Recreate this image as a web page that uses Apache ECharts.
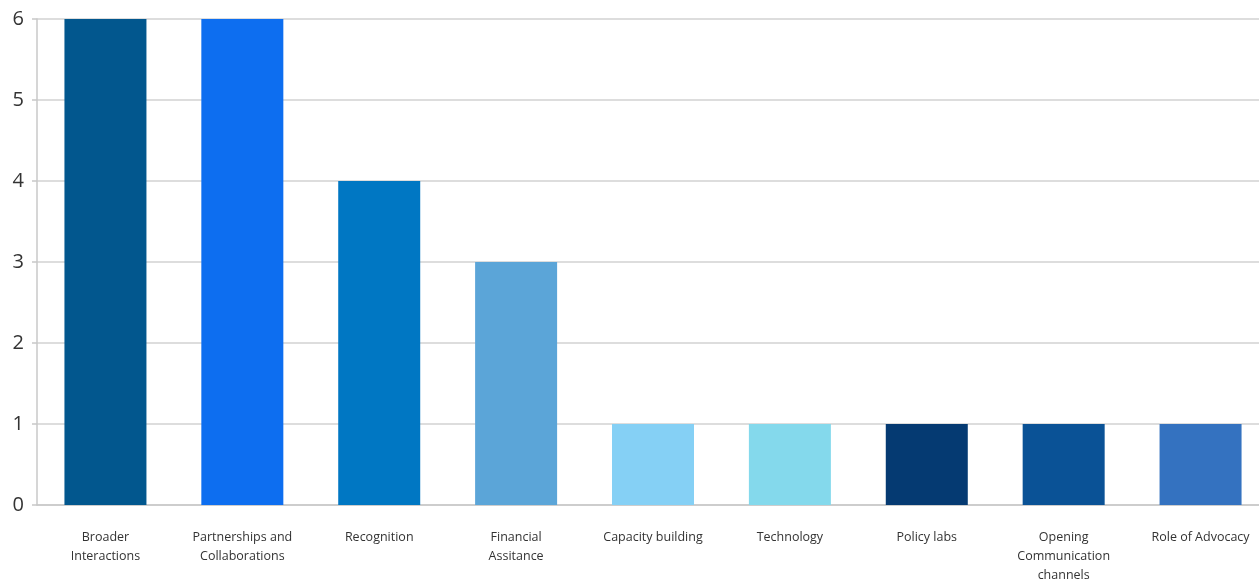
<!DOCTYPE html>
<html>
<head>
<meta charset="utf-8">
<style>
  html, body { margin: 0; padding: 0; background: #ffffff; overflow: hidden; }
  #chart { width: 1269px; height: 581px; }
</style>
<script src="https://cdn.jsdelivr.net/npm/echarts@6/dist/echarts.min.js"></script>
</head>
<body>
<div id="chart"></div>
<script>
// Categories (with line breaks as shown under each bar)
const categories = [
  'Broader\nInteractions',
  'Partnerships and\nCollaborations',
  'Recognition',
  'Financial\nAssitance',
  'Capacity building',
  'Technology',
  'Policy labs',
  'Opening\nCommunication\nchannels',
  'Role of Advocacy'
];
const counts = [6, 6, 4, 3, 1, 1, 1, 1, 1];
const barColors = [
  '#02578E', '#0D6EF0', '#0077C3', '#5BA5D8', '#85D0F5',
  '#84D9EC', '#053A72', '#0A5296', '#3472C0'
];
const yTicks = [0, 1, 2, 3, 4, 5, 6];

const chart = echarts.init(document.getElementById('chart'));
chart.setOption({
  animation: false,
  backgroundColor: '#ffffff',
  grid: {
    left: 37, right: 0, top: 19, bottom: 76,
    containLabel: false,
    outerBoundsMode: 'none'
  },
  xAxis: {
    type: 'category',
    data: categories,
    axisLine: { show: true, lineStyle: { color: '#c8c8c8', width: 1.5 } },
    axisTick: { show: false },
    axisLabel: {
      color: '#333333',
      fontFamily: 'Open Sans',
      fontSize: 12.5,
      lineHeight: 19,
      margin: 23,
      interval: 0
    }
  },
  yAxis: {
    type: 'value',
    min: yTicks[0],
    max: yTicks[yTicks.length - 1],
    interval: 1,
    axisLine: { show: true, lineStyle: { color: '#c8c8c8', width: 1.5 } },
    axisTick: { show: true, length: 5, lineStyle: { color: '#c8c8c8', width: 1.5 } },
    splitLine: { show: true, lineStyle: { color: '#d2d2d2', width: 1.5 } },
    axisLabel: {
      color: '#333333',
      fontFamily: 'Open Sans',
      fontSize: 20,
      margin: 13
    }
  },
  series: [{
    type: 'bar',
    data: counts.map((v, i) => ({ value: v, itemStyle: { color: barColors[i] } })),
    barWidth: 82
  }]
});
</script>
</body>
</html>
